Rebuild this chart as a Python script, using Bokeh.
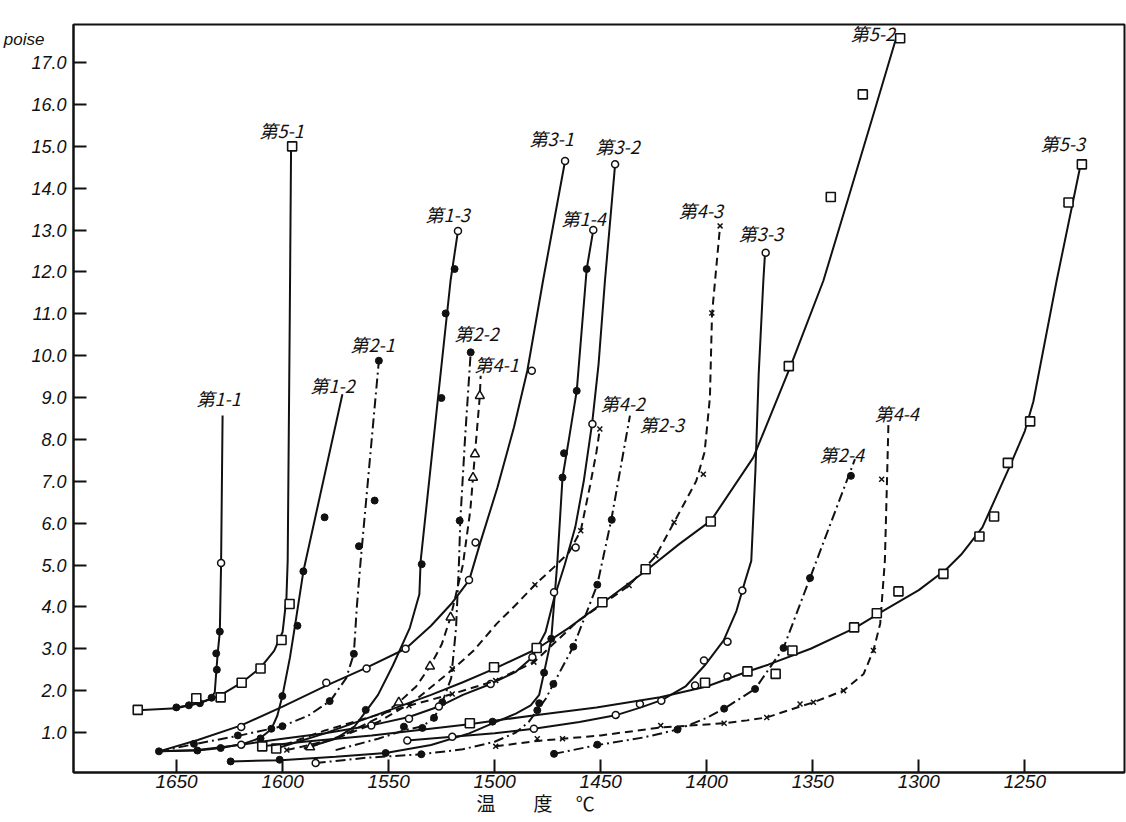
from bokeh.plotting import figure
from bokeh.models import (Range1d, FixedTicker, Label, NumeralTickFormatter, LinearAxis,
                          CustomJSTickFormatter)
from bokeh.embed import file_html
from bokeh.resources import INLINE

# ---------------- data (temperature in deg C, viscosity in poise) ----------------
X_TICKS = [1650, 1600, 1550, 1500, 1450, 1400, 1350, 1300, 1250]
Y_TICKS = [1.0, 2.0, 3.0, 4.0, 5.0, 6.0, 7.0, 8.0, 9.0, 10.0, 11.0, 12.0, 13.0, 14.0, 15.0, 16.0, 17.0]
Y_UNIT = "poise"
X_TITLE = "温　　度　 ℃"

# 第1-1
C11_T = [1650.1, 1644.2, 1639.0, 1634.5, 1632.0, 1631.2, 1630.6, 1629.6, 1629.0, 1628.3]
C11_V = [1.60, 1.65, 1.70, 1.79, 1.95, 2.50, 2.89, 3.41, 5.05, 8.57]
F11_T = [1650.1, 1644.2, 1639.0, 1633.5, 1631.0, 1631.3, 1629.6]
F11_V = [1.60, 1.65, 1.70, 1.83, 2.50, 2.89, 3.41]
O11_T = [1629.0]
O11_V = [5.05]
# 第1-2
C12_T = [1658.3, 1640.2, 1629.0, 1618.0, 1610.5, 1605.3, 1602.5, 1600.1, 1596.5, 1594.0, 1590.2, 1571.8]
C12_V = [0.55, 0.57, 0.63, 0.74, 0.87, 1.08, 1.40, 1.87, 2.80, 3.60, 4.85, 9.08]
F12_T = [1658.3, 1640.2, 1629.2, 1610.4, 1605.3, 1600.1, 1593.0, 1590.2, 1580.2]
F12_V = [0.55, 0.57, 0.63, 0.86, 1.09, 1.87, 3.55, 4.85, 6.14]
# 第1-3
C13_T = [1590.0, 1575.0, 1566.0, 1560.8, 1555.0, 1548.0, 1540.0, 1535.5, 1534.9, 1526.7, 1520.8, 1517.3]
C13_V = [0.62, 0.85, 1.15, 1.50, 1.90, 2.60, 3.50, 4.30, 5.10, 9.00, 11.79, 12.98]
F13_T = [1560.8, 1534.4, 1525.1, 1523.1, 1518.9]
F13_V = [1.54, 5.02, 8.99, 11.01, 12.07]
O13_T = [1517.3]
O13_V = [12.98]
# 第1-4
C14_T = [1624.5, 1601.0, 1575.0, 1551.4, 1530.0, 1512.0, 1501.0, 1490.0, 1483.0, 1479.0, 1476.7, 1473.3, 1470.4, 1468.0, 1465.0, 1461.3, 1456.6, 1453.5]
C14_V = [0.31, 0.34, 0.42, 0.51, 0.70, 0.98, 1.22, 1.45, 1.65, 1.90, 2.43, 3.24, 5.10, 7.09, 8.00, 9.16, 12.07, 13.00]
F14_T = [1624.5, 1601.4, 1551.4, 1501.0, 1479.0, 1476.7, 1473.3, 1468.0, 1467.3, 1461.3, 1456.6]
F14_V = [0.31, 0.35, 0.51, 1.26, 1.70, 2.43, 3.24, 7.09, 7.67, 9.16, 12.07]
O14_T = [1453.5]
O14_V = [13.00]
# 第2-1
C21_T = [1658.3, 1641.8, 1621.0, 1600.1, 1588.0, 1577.4, 1570.0, 1566.4, 1565.0, 1563.2, 1554.6]
C21_V = [0.55, 0.72, 0.92, 1.15, 1.40, 1.76, 2.30, 2.88, 4.00, 5.10, 9.88]
F21_T = [1641.8, 1621.1, 1600.1, 1577.8, 1566.4, 1564.0, 1556.6, 1554.6]
F21_V = [0.73, 0.93, 1.15, 1.75, 2.88, 5.45, 6.54, 9.88]
# 第2-2
C22_T = [1575.0, 1555.0, 1542.8, 1534.0, 1528.6, 1524.7, 1520.5, 1518.2, 1516.8, 1516.2, 1514.0, 1511.3]
C22_V = [0.58, 0.85, 1.05, 1.15, 1.35, 1.72, 2.30, 3.50, 5.10, 6.06, 8.00, 10.08]
F22_T = [1542.8, 1534.1, 1528.6, 1524.7, 1516.5, 1511.3]
F22_V = [1.14, 1.11, 1.35, 1.72, 6.06, 10.08]
# 第2-3
C23_T = [1584.4, 1560.0, 1534.6, 1515.0, 1500.0, 1490.0, 1484.0, 1479.9, 1476.0, 1472.3, 1462.9, 1451.6, 1445.0, 1436.2]
C23_V = [0.27, 0.40, 0.48, 0.60, 0.78, 1.00, 1.25, 1.53, 1.80, 2.16, 3.05, 4.53, 6.08, 8.57]
F23_T = [1534.6, 1479.9, 1472.3, 1462.9, 1451.6, 1444.8]
F23_V = [0.48, 1.53, 2.16, 3.05, 4.53, 6.08]
O23_T = [1584.4]
O23_V = [0.27]
# 第2-4
C24_T = [1472.0, 1451.6, 1430.0, 1413.8, 1400.0, 1391.8, 1377.2, 1363.8, 1351.3, 1330.1]
C24_V = [0.49, 0.70, 0.88, 1.07, 1.35, 1.57, 2.04, 3.02, 4.69, 7.53]
F24_T = [1472.0, 1451.6, 1413.8, 1391.8, 1377.2, 1363.8, 1351.3, 1332.0]
F24_V = [0.49, 0.71, 1.07, 1.57, 2.04, 3.02, 4.69, 7.13]
# 第3-1
C31_T = [1658.3, 1640.0, 1619.5, 1600.0, 1579.4, 1560.4, 1542.0, 1530.0, 1520.0, 1512.0, 1507.0, 1498.7, 1490.9, 1484.6, 1477.2, 1466.8]
C31_V = [0.55, 0.82, 1.17, 1.62, 2.12, 2.55, 3.00, 3.55, 4.10, 4.64, 5.50, 6.85, 8.29, 9.64, 11.79, 14.65]
O31_T = [1619.5, 1579.4, 1560.4, 1542.0, 1512.1, 1509.0, 1482.5, 1466.8]
O31_V = [1.13, 2.19, 2.53, 3.00, 4.64, 5.54, 9.64, 14.65]
# 第3-2
C32_T = [1658.3, 1640.0, 1619.5, 1600.0, 1580.0, 1558.2, 1540.4, 1526.3, 1515.0, 1501.9, 1490.0, 1482.2, 1476.0, 1472.0, 1467.0, 1462.0, 1458.0, 1454.0, 1451.0, 1448.0, 1443.2]
C32_V = [0.55, 0.58, 0.71, 0.85, 0.98, 1.17, 1.37, 1.62, 1.90, 2.16, 2.45, 2.80, 3.40, 4.20, 5.00, 5.90, 7.00, 8.40, 9.80, 11.79, 14.57]
O32_T = [1619.5, 1558.2, 1540.4, 1526.3, 1501.9, 1482.2, 1472.0, 1461.8, 1453.9, 1443.2]
O32_V = [0.71, 1.17, 1.33, 1.62, 2.16, 2.80, 4.35, 5.42, 8.37, 14.57]
# 第3-3
C33_T = [1541.2, 1520.0, 1500.0, 1481.5, 1460.0, 1443.0, 1431.0, 1421.0, 1410.0, 1401.0, 1392.0, 1386.0, 1382.0, 1379.0, 1377.0, 1375.5, 1373.3, 1372.5]
C33_V = [0.81, 0.90, 0.98, 1.09, 1.25, 1.41, 1.60, 1.78, 2.10, 2.60, 3.20, 3.90, 4.60, 5.10, 7.30, 9.56, 11.79, 12.46]
O33_T = [1541.2, 1520.0, 1481.5, 1442.9, 1431.5, 1421.4, 1405.5, 1390.2, 1401.3, 1390.2, 1383.2, 1372.2]
O33_V = [0.81, 0.90, 1.09, 1.42, 1.68, 1.76, 2.12, 2.34, 2.72, 3.17, 4.39, 12.46]
# 第4-1
C41_T = [1587.0, 1570.0, 1555.0, 1545.2, 1537.0, 1530.5, 1525.0, 1520.8, 1515.0, 1511.5, 1510.2, 1509.3, 1507.0, 1506.6]
C41_V = [0.65, 0.97, 1.35, 1.72, 2.10, 2.58, 3.10, 3.75, 5.00, 6.30, 7.09, 7.65, 9.04, 9.52]
T41_T = [1587.0, 1545.2, 1530.5, 1520.8, 1510.2, 1509.3, 1507.0]
T41_V = [0.65, 1.72, 2.58, 3.75, 7.09, 7.65, 9.04]
# 第4-2
C42_T = [1598.0, 1575.0, 1555.0, 1538.0, 1520.0, 1510.0, 1499.0, 1490.0, 1481.0, 1472.0, 1465.0, 1459.4, 1455.0, 1452.0, 1450.4]
C42_V = [0.58, 0.85, 1.25, 1.75, 2.50, 2.95, 3.60, 4.05, 4.53, 4.95, 5.30, 5.82, 6.90, 7.70, 8.25]
X42_T = [1598.0, 1520.0, 1481.0, 1459.4, 1450.4]
X42_V = [0.58, 2.52, 4.53, 5.82, 8.25]
# 第4-3
C43_T = [1605.0, 1580.0, 1560.0, 1540.4, 1520.0, 1499.5, 1481.5, 1461.0, 1436.6, 1424.0, 1415.4, 1405.0, 1401.0, 1398.5, 1397.5, 1393.7]
C43_V = [0.60, 1.05, 1.35, 1.64, 1.92, 2.24, 2.68, 3.65, 4.51, 5.22, 6.02, 7.00, 7.70, 9.00, 11.00, 13.10]
X43_T = [1540.4, 1520.0, 1499.5, 1481.5, 1436.6, 1424.0, 1415.4, 1401.6, 1397.6, 1393.7]
X43_V = [1.64, 1.92, 2.24, 2.68, 4.51, 5.22, 6.02, 7.17, 11.02, 13.10]
# 第4-4
C44_T = [1499.5, 1480.0, 1468.0, 1450.0, 1422.0, 1392.0, 1381.0, 1371.7, 1356.0, 1349.7, 1335.5, 1326.0, 1321.4, 1318.2, 1316.0, 1315.0, 1314.3]
C44_V = [0.67, 0.80, 0.85, 0.93, 1.12, 1.22, 1.29, 1.36, 1.62, 1.72, 2.00, 2.40, 2.96, 3.60, 5.10, 7.00, 8.41]
X44_T = [1499.5, 1479.9, 1468.0, 1421.7, 1391.8, 1371.7, 1356.0, 1349.7, 1335.5, 1321.4, 1317.5]
X44_V = [0.67, 0.85, 0.85, 1.17, 1.22, 1.36, 1.68, 1.72, 2.00, 2.96, 7.05]
# 第5-1
C51_T = [1668.3, 1650.0, 1640.0, 1630.0, 1619.3, 1610.4, 1604.0, 1600.0, 1598.2, 1597.6, 1596.6, 1596.0]
C51_V = [1.53, 1.58, 1.70, 1.87, 2.19, 2.55, 2.95, 3.40, 4.20, 5.10, 11.00, 15.00]
S51_T = [1668.3, 1640.7, 1629.2, 1619.3, 1610.4, 1600.5, 1596.7, 1595.5]
S51_V = [1.54, 1.82, 1.84, 2.19, 2.53, 3.21, 4.07, 15.00]
# 第5-2
C52_T = [1603.0, 1580.0, 1558.0, 1530.0, 1515.0, 1500.3, 1480.0, 1465.0, 1449.0, 1429.0, 1413.0, 1398.0, 1378.0, 1360.7, 1345.0, 1333.0, 1320.0, 1310.7]
C52_V = [0.62, 0.98, 1.38, 1.90, 2.20, 2.52, 3.00, 3.50, 4.10, 4.85, 5.50, 6.06, 7.57, 9.72, 11.79, 13.80, 16.00, 17.58]
S52_T = [1603.0, 1500.3, 1480.2, 1449.2, 1428.8, 1398.1, 1361.3, 1341.5, 1326.4, 1308.8]
S52_V = [0.62, 2.56, 3.02, 4.11, 4.90, 6.04, 9.75, 13.79, 16.24, 17.58]
# 第5-3
C53_T = [1609.6, 1590.0, 1558.0, 1512.0, 1480.0, 1452.0, 1422.0, 1400.0, 1381.0, 1371.0, 1351.0, 1330.0, 1317.0, 1300.0, 1287.0, 1280.0, 1270.0, 1257.0, 1250.0, 1246.0, 1235.0, 1224.0]
C53_V = [0.67, 0.78, 0.93, 1.20, 1.42, 1.60, 1.84, 2.10, 2.45, 2.62, 3.00, 3.50, 3.90, 4.40, 4.90, 5.25, 5.90, 7.37, 8.20, 8.90, 11.79, 14.49]
S53_T = [1609.6, 1511.7, 1400.8, 1380.8, 1367.5, 1359.6, 1330.5, 1319.8, 1309.6, 1288.4, 1271.4, 1264.5, 1258.0, 1247.5, 1229.4, 1223.1]
S53_V = [0.67, 1.22, 2.19, 2.46, 2.40, 2.96, 3.51, 3.85, 4.37, 4.79, 5.68, 6.16, 7.44, 8.43, 13.66, 14.57]

SERIES = [
    ("第1-1", C11_T, C11_V, "solid", [("filled", F11_T, F11_V), ("open", O11_T, O11_V)]),
    ("第1-2", C12_T, C12_V, "solid", [("filled", F12_T, F12_V)]),
    ("第1-3", C13_T, C13_V, "solid", [("filled", F13_T, F13_V), ("open", O13_T, O13_V)]),
    ("第1-4", C14_T, C14_V, "solid", [("filled", F14_T, F14_V), ("open", O14_T, O14_V)]),
    ("第2-1", C21_T, C21_V, "dashdot", [("filled", F21_T, F21_V)]),
    ("第2-2", C22_T, C22_V, "dashdot", [("filled", F22_T, F22_V)]),
    ("第2-3", C23_T, C23_V, "dashdot", [("filled", F23_T, F23_V), ("open", O23_T, O23_V)]),
    ("第2-4", C24_T, C24_V, "dashdot", [("filled", F24_T, F24_V)]),
    ("第3-1", C31_T, C31_V, "solid", [("open", O31_T, O31_V)]),
    ("第3-2", C32_T, C32_V, "solid", [("open", O32_T, O32_V)]),
    ("第3-3", C33_T, C33_V, "solid", [("open", O33_T, O33_V)]),
    ("第4-1", C41_T, C41_V, "dashed", [("triangle", T41_T, T41_V)]),
    ("第4-2", C42_T, C42_V, "dashed", [("x", X42_T, X42_V)]),
    ("第4-3", C43_T, C43_V, "dashed", [("x", X43_T, X43_V)]),
    ("第4-4", C44_T, C44_V, "dashed", [("x", X44_T, X44_V)]),
    ("第5-1", C51_T, C51_V, "solid", [("square", S51_T, S51_V)]),
    ("第5-2", C52_T, C52_V, "solid", [("square", S52_T, S52_V)]),
    ("第5-3", C53_T, C53_V, "solid", [("square", S53_T, S53_V)]),
]

# ---------------- layout / style ----------------
LABEL_AT = {
    "第1-1": (1630.2, 9.00), "第5-1": (1600.5, 15.38), "第1-2": (1576.4, 9.29),
    "第2-1": (1557.5, 10.29), "第1-3": (1522.2, 13.39), "第2-2": (1508.5, 10.55),
    "第4-1": (1499.1, 9.81), "第3-1": (1473.1, 15.21), "第3-2": (1442.0, 15.02),
    "第1-4": (1458.0, 13.30), "第4-3": (1402.8, 13.47), "第3-3": (1374.5, 12.92),
    "第5-2": (1321.7, 17.70), "第5-3": (1232.1, 15.09), "第4-2": (1439.6, 8.86),
    "第2-3": (1421.2, 8.38), "第2-4": (1336.3, 7.66), "第4-4": (1310.4, 8.64),
}
UNIT_AT = 17.55       # y position (data) of the unit text beside the axis
TITLE_AT = 1480.7     # x position (data) of the axis title
DASH = {"solid": "solid", "dashdot": "10 4 2 4", "dashed": "8 5"}
INK = "#111111"

p = figure(width=1126, height=822,
           x_range=Range1d(1698.6, 1203.0), y_range=Range1d(0.045, 17.91),
           output_backend="svg", toolbar_location=None,
           min_border_left=73, min_border_right=2, min_border_top=24, min_border_bottom=50,
           background_fill_color="white", border_fill_color="white")
p.xgrid.visible = False
p.ygrid.visible = False
p.outline_line_color = INK
p.outline_line_width = 2
p.outline_line_alpha = 1.0

p.xaxis.ticker = FixedTicker(ticks=X_TICKS)
p.yaxis.ticker = FixedTicker(ticks=Y_TICKS)
p.yaxis.formatter = NumeralTickFormatter(format="0.0")
for ax in (p.xaxis, p.yaxis):
    ax.minor_tick_line_color = None
    ax.major_tick_in = 13
    ax.major_tick_out = 0
    ax.major_tick_line_width = 2
    ax.major_tick_line_color = INK
    ax.axis_line_width = 2
    ax.axis_line_color = INK
    ax.major_label_text_font = "Liberation Sans"
    ax.major_label_text_font_style = "italic"
    ax.major_label_text_color = INK
p.yaxis.major_label_text_font_size = "18px"
p.xaxis.major_label_text_font_size = "19px"
p.yaxis.major_label_standoff = 7
p.xaxis.major_label_standoff = 2

# unit text at the top-left, drawn as an extra (line-less) left axis
unit_axis = LinearAxis(ticker=FixedTicker(ticks=[UNIT_AT]),
                       formatter=CustomJSTickFormatter(code="return '%s';" % Y_UNIT),
                       major_tick_in=0, major_tick_out=0, minor_tick_line_color=None,
                       axis_line_color=None, major_tick_line_color=None,
                       major_label_standoff=-16, major_label_text_font="Liberation Sans",
                       major_label_text_font_style="italic", major_label_text_font_size="17px",
                       major_label_text_color=INK)
p.add_layout(unit_axis, "left")

# axis title below, drawn as an extra (line-less) bottom axis
title_axis = LinearAxis(ticker=FixedTicker(ticks=[TITLE_AT]),
                        formatter=CustomJSTickFormatter(code="return '%s';" % X_TITLE),
                        major_tick_in=0, major_tick_out=0, minor_tick_line_color=None,
                        axis_line_color=None, major_tick_line_color=None,
                        major_label_standoff=-2, major_label_text_font="Noto Sans CJK JP",
                        major_label_text_font_size="19px", major_label_text_color=INK)
p.add_layout(title_axis, "below")

for name, ct, cv, style, marks in SERIES:
    p.line(ct, cv, line_color=INK, line_width=2, line_dash=DASH[style])
    for kind, mt, mv in marks:
        if kind == "filled":
            p.scatter(mt, mv, marker="circle", size=7, fill_color=INK, line_color=INK)
        elif kind == "open":
            p.scatter(mt, mv, marker="circle", size=7, fill_color="white", line_color=INK, line_width=1.5)
        elif kind == "square":
            p.scatter(mt, mv, marker="square", size=9, fill_color="white", line_color=INK, line_width=1.6)
        elif kind == "triangle":
            p.scatter(mt, mv, marker="triangle", size=9, fill_color="white", line_color=INK, line_width=1.5)
        elif kind == "x":
            p.scatter(mt, mv, marker="x", size=7, line_color=INK, line_width=1.5)
    lx, ly = LABEL_AT[name]
    p.add_layout(Label(x=lx, y=ly, text=name, text_align="center", text_baseline="middle",
                       text_font="Noto Sans CJK JP", text_font_style="italic",
                       text_font_size="18px", text_color=INK))

open("out.html", "w").write(file_html(p, INLINE))
